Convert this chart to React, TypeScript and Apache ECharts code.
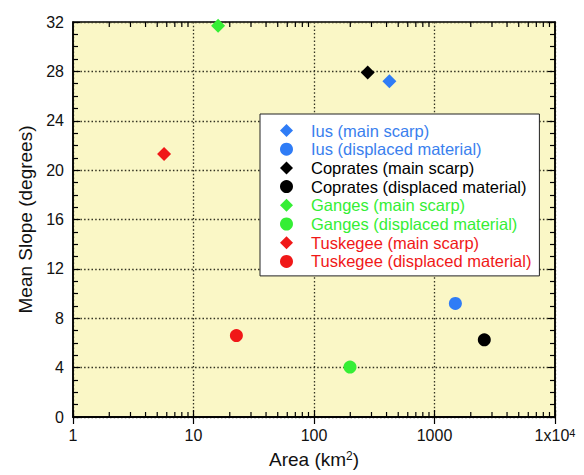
import React, { useEffect, useRef } from "react";
import * as echarts from "echarts";

const seriesNames = [
  "Ius (main scarp)",
  "Ius (displaced material)",
  "Coprates (main scarp)",
  "Coprates (displaced material)",
  "Ganges (main scarp)",
  "Ganges (displaced material)",
  "Tuskegee (main scarp)",
  "Tuskegee (displaced material)",
];
const areaValues = [422, 1490, 279, 2590, 16, 199, 5.7, 22.7];
const slopeValues = [27.2, 9.2, 27.9, 6.25, 31.7, 4.05, 21.3, 6.6];
const seriesColors = ["#2F7CF6", "#2F7CF6", "#000000", "#000000", "#35EE35", "#35EE35", "#F01818", "#F01818"];
const seriesSymbols = ["diamond", "circle", "diamond", "circle", "diamond", "circle", "diamond", "circle"];
const yTicks = [0, 4, 8, 12, 16, 20, 24, 28, 32];
const xMajorTicks = [1, 10, 100, 1000, 10000];
const xMinorTicks = [
  2, 3, 4, 5, 6, 7, 8, 9,
  20, 30, 40, 50, 60, 70, 80, 90,
  200, 300, 400, 500, 600, 700, 800, 900,
  2000, 3000, 4000, 5000, 6000, 7000, 8000, 9000,
];

const FONT = "Liberation Sans, Arial, sans-serif";

export default function App() {
  const ref = useRef<HTMLDivElement>(null);
  useEffect(() => {
    if (!ref.current) return;
    const chart = echarts.init(ref.current, null, { renderer: "svg" });
    const yMin = yTicks[0];
    const yMax = yTicks[yTicks.length - 1];
    const xMin = xMajorTicks[0];
    const xMax = xMajorTicks[xMajorTicks.length - 1];
    const axisLine = { show: true, lineStyle: { color: "#000", width: 1.5 } };
    const scatterSeries = seriesNames.map((name, i) => ({
      name,
      type: "scatter",
      xAxisIndex: 0,
      yAxisIndex: 0,
      symbol: seriesSymbols[i],
      symbolSize: seriesSymbols[i] === "diamond" ? 14 : 13,
      itemStyle: { color: seriesColors[i], opacity: 1 },
      data: [[areaValues[i], slopeValues[i]]],
      z: 5,
    }));
    chart.setOption({
      animation: false,
      backgroundColor: "#ffffff",
      textStyle: { fontFamily: FONT },
      grid: {
        left: 73,
        right: 29,
        top: 22,
        bottom: 58,
        show: true,
        backgroundColor: "#FAF7C6",
        borderColor: "#000",
        borderWidth: 1.5,
      },
      legend: {
        orient: "vertical",
        left: 260,
        top: 114,
        padding: [8, 8, 6, 20],
        backgroundColor: "#ffffff",
        borderColor: "#222",
        borderWidth: 1,
        itemWidth: 13,
        itemHeight: 13,
        itemGap: 1.7,
        textStyle: { fontSize: 16.5, fontFamily: FONT, lineHeight: 16, padding: [0, 0, 0, 13] },
        data: seriesNames.map((name, i) => ({
          name,
          icon: seriesSymbols[i],
          itemStyle: { color: seriesColors[i] },
          textStyle: { color: seriesColors[i] === "#2F7CF6" ? "#3A80EE" : seriesColors[i] },
        })),
      },
      xAxis: [
        {
          type: "log",
          logBase: 10,
          min: xMin,
          max: xMax,
          position: "bottom",
          axisLine,
          axisTick: { show: true, inside: true, length: 7, lineStyle: { color: "#000", width: 1.2 } },
          minorTick: { show: false },
          splitLine: { show: true, lineStyle: { color: "#333322", width: 1.3, type: [1.5, 2.2] } },
          axisLabel: {
            fontSize: 16,
            color: "#111",
            margin: 10,
            fontFamily: FONT,
            formatter: (v: number) => (v === 10000 ? "1x10{sup|4}" : String(v)),
            rich: { sup: { fontSize: 11, verticalAlign: "top", lineHeight: 11, fontFamily: FONT, color: "#111" } },
          },
          name: "Area (km{sup|2})",
          nameLocation: "middle",
          nameGap: 33,
          nameTextStyle: {
            fontSize: 19,
            color: "#111",
            fontFamily: FONT,
            rich: { sup: { fontSize: 12, verticalAlign: "top", lineHeight: 12, fontFamily: FONT, color: "#111" } },
          },
        },
        {
          type: "log",
          logBase: 10,
          min: xMin,
          max: xMax,
          position: "top",
          axisLine,
          axisTick: { show: true, inside: true, length: 7, lineStyle: { color: "#000", width: 1.2 } },
          splitLine: { show: false },
          axisLabel: { show: false },
        },
      ],
      yAxis: [
        {
          type: "value",
          min: yMin,
          max: yMax,
          interval: 4,
          position: "left",
          axisLine,
          axisTick: { show: true, inside: true, length: 7, lineStyle: { color: "#000", width: 1.2 } },
          minorTick: { show: true, splitNumber: 4, length: 5, lineStyle: { color: "#000", width: 1.2 } },
          splitLine: { show: true, lineStyle: { color: "#333322", width: 1.3, type: [1.5, 2.2] } },
          axisLabel: { fontSize: 16, color: "#111", margin: 9, fontFamily: FONT },
          name: "Mean Slope (degrees)",
          nameLocation: "middle",
          nameGap: 37,
          nameTextStyle: { fontSize: 19, color: "#111", fontFamily: FONT },
        },
        {
          type: "value",
          min: yMin,
          max: yMax,
          interval: 4,
          position: "right",
          axisLine,
          axisTick: { show: true, inside: true, length: 7, lineStyle: { color: "#000", width: 1.2 } },
          minorTick: { show: true, splitNumber: 4, length: 5, lineStyle: { color: "#000", width: 1.2 } },
          splitLine: { show: false },
          axisLabel: { show: false },
        },
      ],
      series: [
        {
          type: "custom",
          name: "minorTicks",
          xAxisIndex: 0,
          yAxisIndex: 0,
          silent: true,
          clip: false,
          z: 3,
          data: xMinorTicks.map((v) => [v, yMin]),
          renderItem: (params: any, api: any) => {
            const v = api.value(0);
            const b = api.coord([v, yMin]);
            const t = api.coord([v, yMax]);
            const style = { stroke: "#000", lineWidth: 1.2 };
            return {
              type: "group",
              children: [
                { type: "line", shape: { x1: b[0], y1: b[1], x2: b[0], y2: b[1] - 5 }, style },
                { type: "line", shape: { x1: t[0], y1: t[1], x2: t[0], y2: t[1] + 5 }, style },
              ],
            };
          },
        },
        ...scatterSeries,
      ],
    });
    return () => chart.dispose();
  }, []);
  return (
    <div
      ref={ref}
      style={{ position: "fixed", left: 0, top: 0, width: 584, height: 475 }}
    />
  );
}
